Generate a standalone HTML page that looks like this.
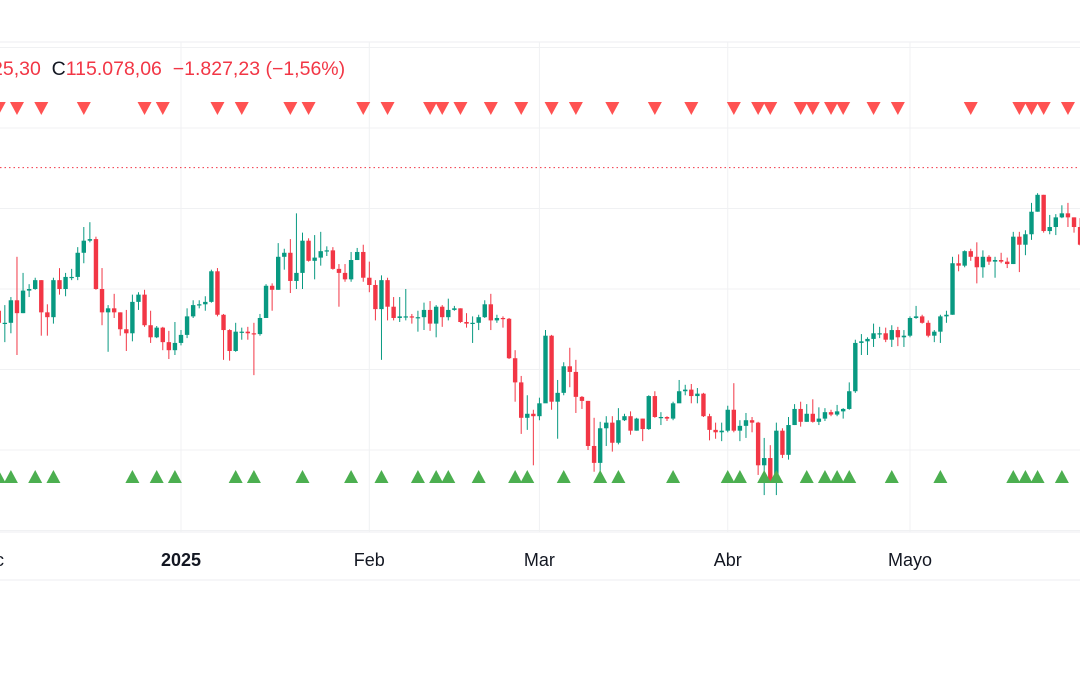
<!DOCTYPE html>
<html><head><meta charset="utf-8"><style>
html,body{margin:0;padding:0;background:#fff;width:1080px;height:675px;overflow:hidden}
#wrap{position:relative;width:1080px;height:675px;font-family:"Liberation Sans",sans-serif}
#hdr{position:absolute;top:58px;left:-8px;font-size:19.5px;white-space:nowrap;color:#f23645}
#hdr .k{color:#131722}
svg{position:absolute;left:0;top:0}
</style></head><body>
<div id="wrap">
<svg id="chart" width="1080" height="675"></svg>
<div id="hdr"><span>25,30</span>&nbsp;&nbsp;<span class="k">C</span><span>115.078,06</span>&nbsp;&nbsp;<span>−1.827,23 (−1,56%)</span></div>
</div>
<script>
// prices in thousands USD; day index 1 = Dec 2 2024 (day 0 = Dec 1)
const firstOpen = 97.3;
const closes = [95.8,95.8,98.6,97.0,99.8,100.0,101.1,97.1,96.5,101.1,100.0,101.5,101.5,104.5,106.0,106.2,100.0,97.1,97.6,97.1,95.0,94.5,98.4,99.3,95.5,94.0,95.2,93.4,92.4,93.3,94.3,96.6,98.0,98.1,98.4,102.2,96.8,94.9,92.3,94.7,94.7,94.5,94.4,96.4,100.4,99.9,104.0,104.5,101.0,102.0,106.0,103.5,103.9,104.7,104.8,102.5,102.0,101.2,103.6,104.6,101.4,100.5,97.5,101.1,97.8,96.4,96.6,96.6,96.5,96.5,97.4,95.7,97.8,96.5,97.4,97.6,95.9,95.7,95.8,96.5,98.1,96.1,96.4,96.3,91.4,88.4,84.0,84.5,84.2,85.8,94.2,86.0,87.1,90.4,89.7,86.6,86.1,80.5,78.4,82.7,83.4,80.9,83.7,84.2,82.4,83.9,82.6,86.7,84.1,84.1,83.9,85.8,87.3,87.5,86.7,87.0,84.2,82.5,82.2,82.4,85.0,82.4,83.0,83.7,83.4,78.1,79.0,76.0,82.4,79.4,83.1,85.1,83.5,84.5,83.5,83.9,84.7,84.4,84.8,85.1,87.3,93.3,93.5,93.8,94.5,94.5,93.7,94.9,94.0,94.2,96.4,96.6,95.8,94.2,94.7,96.6,96.8,103.2,102.9,104.7,104.0,102.7,104.0,103.4,103.6,103.4,103.1,106.5,105.5,106.8,109.6,111.7,107.2,107.7,108.9,109.4,108.9,107.7,105.5];
const highs = [98.6,98.0,99.0,104.0,102.0,100.6,101.4,101.1,98.1,101.4,102.6,102.0,102.5,105.2,107.7,108.3,106.5,102.6,98.0,99.4,97.1,97.4,99.3,99.6,99.9,97.3,95.4,95.3,94.8,95.9,94.9,97.6,98.6,98.6,99.1,102.4,102.6,96.9,95.0,95.8,95.2,95.3,95.8,96.9,100.6,100.7,105.7,105.0,106.2,109.4,107.0,106.3,106.7,107.1,105.3,105.2,103.1,103.1,104.6,105.1,105.5,103.4,101.1,101.7,101.4,99.0,99.0,100.0,96.9,97.3,98.3,98.5,98.0,98.0,98.8,97.9,97.6,97.0,96.6,96.8,98.6,99.4,96.8,96.6,96.4,92.4,89.2,86.8,85.0,86.5,94.9,94.3,88.7,90.9,92.7,91.2,86.7,86.1,84.0,83.5,84.2,84.2,85.2,84.5,84.8,84.0,83.9,86.8,87.3,84.7,84.2,86.0,88.7,88.1,88.2,87.7,87.1,84.5,83.4,83.4,85.5,88.3,83.7,84.6,84.1,83.5,81.5,80.6,83.4,82.7,84.1,85.7,86.0,85.7,86.3,85.3,85.2,85.0,85.6,85.2,88.4,93.7,94.4,94.0,95.7,95.3,95.2,95.5,95.3,94.9,96.6,97.9,96.8,96.1,94.9,96.8,97.3,104.0,104.3,104.8,105.0,105.8,104.8,104.2,104.0,104.5,103.9,107.1,107.1,107.3,110.7,111.9,111.7,109.2,109.3,110.4,110.7,108.9,108.8];
const lows = [94.4,93.4,94.5,91.8,97.0,99.0,99.9,94.2,94.2,95.7,99.3,99.1,101.1,101.1,103.2,105.8,99.9,95.5,92.2,96.4,94.2,92.3,93.5,97.4,95.3,93.3,93.9,92.4,91.3,91.8,93.0,93.9,96.4,97.6,97.3,98.3,96.6,91.2,91.1,92.2,93.7,93.7,89.3,94.2,96.4,97.3,99.9,102.4,99.5,100.0,100.0,103.4,101.2,102.9,104.1,102.4,97.8,100.9,100.9,103.6,100.9,99.6,96.1,91.2,96.1,96.1,95.9,96.1,95.7,94.7,94.9,94.8,94.0,95.3,96.1,97.3,95.8,95.2,93.3,94.9,96.4,94.9,95.8,95.2,91.3,86.0,82.0,82.5,78.1,83.7,86.0,85.0,81.4,86.8,87.8,84.6,85.1,80.0,77.3,77.3,80.5,79.8,80.7,83.6,81.9,82.4,81.1,82.5,84.0,83.1,83.6,83.7,86.0,86.8,85.8,85.8,84.1,81.2,81.4,81.1,82.2,82.2,81.1,81.5,82.2,76.9,74.4,75.9,74.4,79.0,78.8,83.1,82.9,83.5,83.4,83.1,83.6,84.2,84.2,83.9,85.0,87.1,91.8,91.8,92.8,93.9,93.4,92.8,92.9,92.8,94.0,96.3,95.7,94.0,93.4,93.3,95.8,96.8,102.2,102.7,103.5,100.7,101.4,103.0,101.4,103.2,102.6,103.1,102.1,104.2,106.1,109.6,107.0,106.8,106.7,108.8,107.7,107.0,105.4];
const sellSignals = [1,4,8,15,25,28,37,41,49,52,61,65,72,74,77,82,87,92,96,102,109,115,122,126,128,133,135,138,140,145,149,161,169,171,173,177];
const buySignals = [1,3,7,10,23,27,30,40,43,51,59,64,70,73,75,80,86,88,94,100,103,112,121,123,127,129,134,137,139,141,148,156,168,170,172,176];
const monthLabels = ["Dic","2025","Feb","Mar","Abr","Mayo"];
const monthDays = [0,31,62,90,121,151];
const lastPrice = 115.078;

const svg = document.getElementById('chart');
const NS = 'http://www.w3.org/2000/svg';
const xOf = d => 181 + (d - 31) * 6.075;
const yOf = p => 289 - (p - 100) * 8.05;
function mk(tag, attrs){const e=document.createElementNS(NS,tag);for(const k in attrs)e.setAttribute(k,attrs[k]);svg.appendChild(e);return e;}

[130,120,110,100,90,80,70].forEach(p=>{
  const g=mk('line',{x1:0,x2:1080,y1:yOf(p),y2:yOf(p),stroke:'#f0f1f3','stroke-width':1});
  
  
});
const tb=mk('line',{x1:0,x2:1080,y1:42,y2:42,stroke:'#eceef1','stroke-width':1});


const ax=mk('line',{x1:0,x2:1080,y1:580,y2:580,stroke:'#eceef1','stroke-width':1});


const ax2=mk('line',{x1:0,x2:1080,y1:532,y2:532,stroke:'#eceef1','stroke-width':1});



monthDays.forEach((d,i)=>{
  const x=xOf(d);
  if(i>0){
    const v=mk('line',{x1:x,x2:x,y1:42,y2:532,stroke:'#f0f1f3','stroke-width':1});
    
    
  }
  const t=mk('text',{x:i===0?-22:x,y:566,'text-anchor':i===0?'start':'middle','font-size':18,fill:'#131722','font-family':'Liberation Sans, sans-serif','font-weight':monthLabels[i]==='2025'?'bold':'normal'});
  t.textContent=monthLabels[i];
  
  
});

const pl=mk('line',{x1:0,x2:1080,y1:yOf(lastPrice),y2:yOf(lastPrice),stroke:'#f23645','stroke-width':1,'stroke-dasharray':'1.5 3'});



let prev=firstOpen;
closes.forEach((c,k)=>{
  const d=k+1, o=prev; prev=c;
  const x=xOf(d), up=c>=o, col=up?'#089981':'#f23645';
  const w=mk('line',{x1:x,x2:x,y1:yOf(highs[k]),y2:yOf(lows[k]),stroke:col,'stroke-width':1});
  
  
  const top=yOf(Math.max(o,c)), bot=yOf(Math.min(o,c));
  const b=mk('rect',{x:x-2.2,y:top,width:4.4,height:Math.max(1.2,bot-top),fill:col});
  
  
});

sellSignals.forEach(d=>{
  const x=xOf(d);
  const t=mk('polygon',{points:`${x-7},102 ${x+7},102 ${x},115`,fill:'#ff5252'});
  
  
});
buySignals.forEach(d=>{
  const x=xOf(d);
  const t=mk('polygon',{points:`${x-7},483 ${x+7},483 ${x},470`,fill:'#4caf50'});
  
  
});
</script>
</body></html>
